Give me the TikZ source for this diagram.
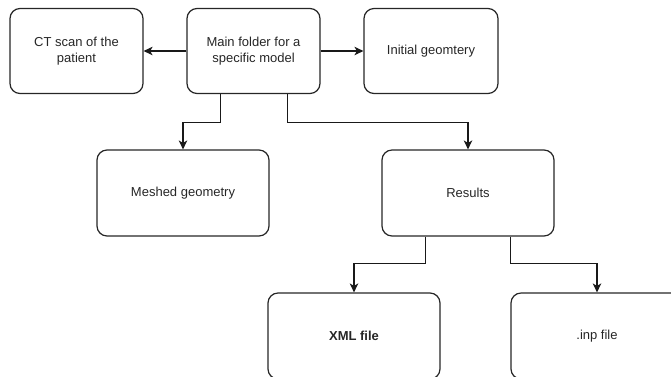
\documentclass[tikz,border=0pt]{standalone}
\usepackage{fontspec}
\setmainfont{Liberation Sans}
\usetikzlibrary{arrows.meta}
\begin{document}
\begin{tikzpicture}[x=1pt,y=-1pt,
  box/.style={draw=black!85, line width=1.2pt, rounded corners=10pt, align=center, font=\fontsize{13}{15.5}\selectfont, text=black!85, inner sep=0pt},
  conn/.style={draw=black!90, line width=1.2pt, -{Stealth[length=9pt,width=8.5pt,inset=2.5pt]}}]
\useasboundingbox (0,0) rectangle (671,376);
\clip (0,0) rectangle (671,376);
\node[box, minimum width=133pt, minimum height=85pt] (ct) at (76.5,51) {CT scan of the\\patient};
\node[box, minimum width=133pt, minimum height=85pt] (main) at (253.5,51) {Main folder for a\\specific model};
\node[box, minimum width=134pt, minimum height=85pt] (init) at (431,51) {Initial geomtery};
\node[box, minimum width=172pt, minimum height=86pt] (mesh) at (183,193) {Meshed geometry};
\node[box, minimum width=172pt, minimum height=86pt] (res) at (468,193) {Results};
\node[box, minimum width=172pt, minimum height=86pt, font=\fontsize{13}{15.5}\selectfont\bfseries] (xml) at (354,336) {XML file};
\node[box, minimum width=172pt, minimum height=86pt] (inp) at (597,336) {.inp file};
\coordinate (m1) at (220.5,122.5);
\coordinate (m2) at (287.5,122.5);
\coordinate (r1) at (425.5,263.5);
\coordinate (r2) at (510.5,263.5);
\draw[conn] (main.west) -- (ct.east);
\draw[conn] (main.east) -- (init.west);
\draw[conn] (main.south -| m1) -- (m1) -| (mesh.north);
\draw[conn] (main.south -| m2) -- (m2) -| (res.north);
\draw[conn] (res.south -| r1) -- (r1) -| (xml.north);
\draw[conn] (res.south -| r2) -- (r2) -| (inp.north);
\end{tikzpicture}
\end{document}
